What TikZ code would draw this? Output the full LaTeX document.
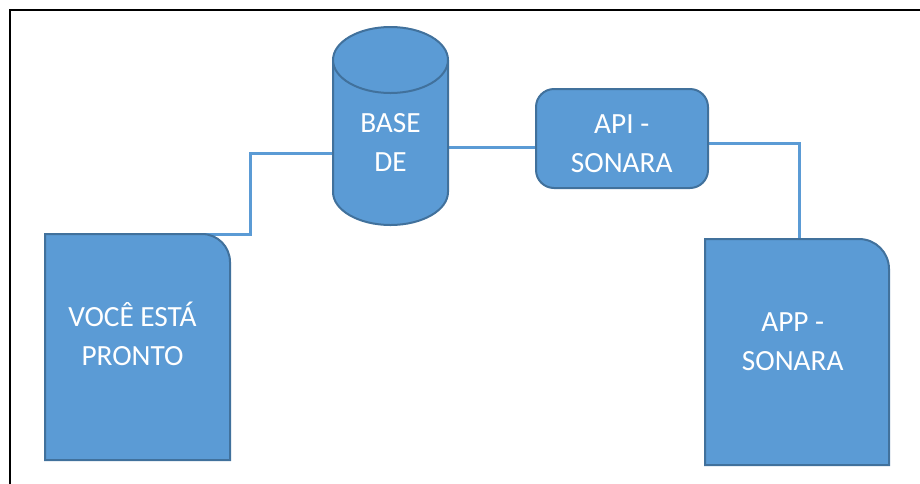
\documentclass[tikz,border=0pt]{standalone}
\usepackage{fontspec}
\setmainfont{Carlito}
\usetikzlibrary{calc}
\definecolor{fillblue}{HTML}{5B9BD5}
\definecolor{edgeblue}{HTML}{41719C}
\tikzset{
  shapebox/.style={draw=none, inner sep=0pt, outer sep=0pt},
  shapeline/.style={fill=fillblue, draw=edgeblue, line width=2pt},
  lbl/.style={text=white, align=center, inner sep=0pt, font=\fontsize{29.3}{39}\selectfont},
  conn/.style={draw=fillblue, line width=3pt},
  frameline/.style={draw=black, line width=2.6pt}
}
\begin{document}
\begin{tikzpicture}[x=1pt, y=-1pt]
\useasboundingbox (0,0) rectangle (920,483);
% frame
\draw[frameline] (10,500) -- (10,10) -- (930,10);

% invisible named nodes giving the shapes' extents
\node[shapebox, minimum width=115pt, minimum height=198pt] (cyl) at (390.5,126) {};
\node[shapebox, minimum width=172pt, minimum height=99pt] (api) at (622,138.5) {};
\node[shapebox, minimum width=185pt, minimum height=226pt] (voce) at (137.5,347) {};
\node[shapebox, minimum width=184pt, minimum height=226pt] (app) at (797,352) {};

% connectors (drawn below shapes)
\draw[conn] ([yshift=-27pt]cyl.west) -- ++(-83,0) |- ([xshift=27.5pt]voce.north);
\draw[conn] ([yshift=-21pt]cyl.east) -- ([yshift=-21pt]cyl.east -| api.west);
\draw[conn] ([yshift=-4.5pt]api.east) -| ([xshift=2pt]app.north);

% cylinder
\fill[fillblue] (333,60) rectangle (448,192);
\fill[fillblue] (390.5,192) ellipse [x radius=57.5pt, y radius=33pt];
\draw[edgeblue, line width=2pt] (333,60) -- (333,192) arc[start angle=180, end angle=360, x radius=57.5pt, y radius=33pt] -- (448,60);
\draw[shapeline] (390.5,60) ellipse [x radius=57.5pt, y radius=33pt];

% API rounded rectangle
\draw[shapeline, rounded corners=18pt] (api.north west) rectangle (api.south east);

% documents with one rounded corner
\draw[shapeline] (voce.north west) [rounded corners=28pt] -- (voce.north east) [sharp corners] -- (voce.south east) -- (voce.south west) -- cycle;
\draw[shapeline] (app.north west) [rounded corners=30pt] -- (app.north east) [sharp corners] -- (app.south east) -- (app.south west) -- cycle;

% labels
\node[lbl] (cyl-t) at (390.5,142) {BASE\\DE};
\node[lbl] (api-t) at (621.7,143.5) {API -\\SONARA};
\node[lbl] (voce-t) at (132.5,334) {VOCÊ ESTÁ\\PRONTO};
\node[lbl] (app-t) at (792.7,342) {APP -\\SONARA};
\end{tikzpicture}
\end{document}
